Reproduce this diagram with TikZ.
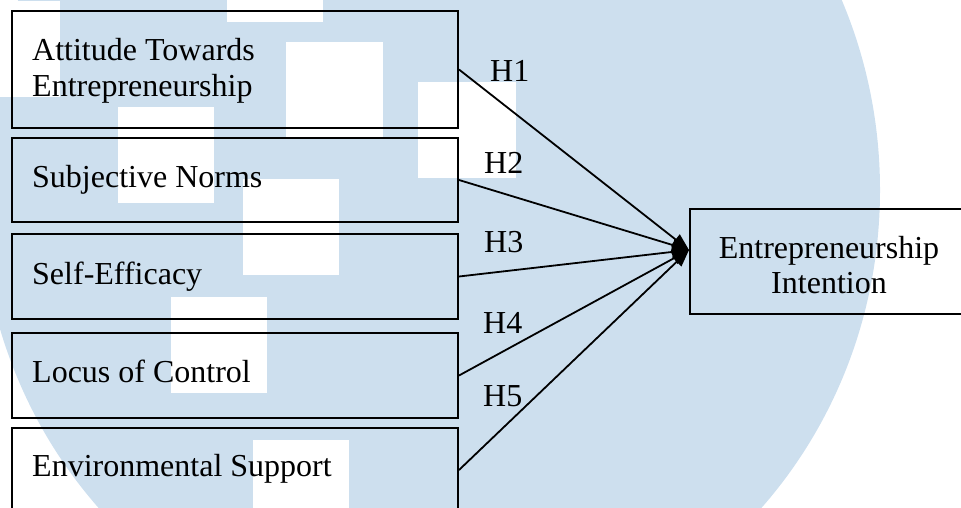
\documentclass[tikz,border=0pt]{standalone}
\usepackage{fontspec}
\setmainfont{Liberation Serif}
\usetikzlibrary{arrows.meta}
\definecolor{wmblue}{RGB}{205,223,238}
\tikzset{
  factor/.style={draw=black, line width=2pt, anchor=north west, inner sep=0pt},
  label/.style={font=\fontsize{32}{36}\selectfont, anchor=base west, inner sep=0pt},
  hyp/.style={font=\fontsize{32}{36}\selectfont, anchor=base west, inner sep=0pt},
  path/.style={line width=1.8pt, -{Triangle[length=17pt,width=13pt]}},
  block/.style={fill=white, draw=none}
}
\begin{document}
\begin{tikzpicture}[x=1pt,y=-1pt]
\useasboundingbox (0,0) rectangle (961,508);
\clip (0,0) rectangle (961,508);
% background emblem
\fill[wmblue] (430,190) ellipse [x radius=450, y radius=470];
\fill[block] (-36,1) rectangle (60,97);
\fill[block] (227,-74) rectangle (323,22);
\fill[block] (286,42) rectangle (383,137);
\fill[block] (418,82) rectangle (516,178);
\fill[block] (118,107) rectangle (214,203);
\fill[block] (243,179) rectangle (339,275);
\fill[block] (171,297) rectangle (267,393);
\fill[block] (253,440) rectangle (349,536);

% construct boxes
\node[factor, minimum width=446pt, minimum height=117pt] (att) at (11,10) {};
\node[factor, minimum width=446pt, minimum height=84pt] (sub) at (11,137) {};
\node[factor, minimum width=446pt, minimum height=85pt] (sel) at (11,233) {};
\node[factor, minimum width=446pt, minimum height=85pt] (loc) at (11,332) {};
\node[factor, minimum width=446pt, minimum height=84pt] (env) at (11,427) {};
\node[factor, minimum width=280pt, minimum height=105pt] (ei) at (689,208) {};

% box texts
\node[label] (t1a) at (32,61) {Attitude Towards};
\node[label] (t1b) at (32,97) {Entrepreneurship};
\node[label] (t2) at (32,187) {Subjective Norms};
\node[label] (t3) at (32,284) {Self-Efficacy};
\node[label] (t4) at (32,382) {Locus of Control};
\node[label] (t5) at (32,476) {Environmental Support};
\node[label, anchor=base] (t6a) at (829,258) {Entrepreneurship};
\node[label, anchor=base] (t6b) at (829,293) {Intention};

% hypothesis labels
\node[hyp] (h1) at (490,82) {H1};
\node[hyp] (h2) at (484,173) {H2};
\node[hyp] (h3) at (484,252) {H3};
\node[hyp] (h4) at (483,333) {H4};
\node[hyp] (h5) at (483,406) {H5};

% paths
\coordinate (tip) at (689,250);
\draw[path] (att.east) -- (tip);
\draw[path] (sub.east) -- (tip);
\draw[path] (sel.east) -- (tip);
\draw[path] (loc.east) -- (tip);
\draw[path] (env.east) -- (tip);
\end{tikzpicture}
\end{document}
